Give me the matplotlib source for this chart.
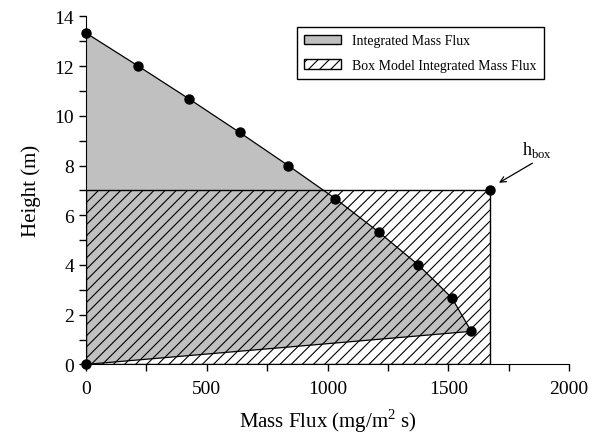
import matplotlib.pyplot as plt
import matplotlib.patches as mpatches
from matplotlib.ticker import MultipleLocator

plt.rcParams['font.family'] = ['Liberation Serif', 'DejaVu Serif']
plt.rcParams['mathtext.fontset'] = 'custom'
plt.rcParams['mathtext.rm'] = 'Liberation Serif'
plt.rcParams['hatch.linewidth'] = 0.8

# measured profile (mass flux vs height)
flux = [0, 216, 428, 636, 837, 1032, 1211, 1376, 1515, 1595]
height = [13.33, 12.0, 10.67, 9.33, 8.0, 6.67, 5.33, 4.0, 2.67, 1.33]

# box model
box_flux = 1674
box_height = 7.0

fig = plt.figure(figsize=(5.94, 4.35), dpi=100)
ax = fig.add_axes([0.145, 0.160, 0.813, 0.800])

# integrated mass flux area (closed back to origin)
poly_x = flux + [0, 0]
poly_y = height + [0, height[0]]
ax.fill(poly_x, poly_y, facecolor='#c0c0c0', edgecolor='none', zorder=1)
ax.plot(flux + [0], height + [0], color='black', lw=0.9, zorder=3)

# box model rectangle
ax.add_patch(mpatches.Rectangle((0, 0), box_flux, box_height, facecolor='none',
                                edgecolor='black', hatch='///', lw=1.0, zorder=2))

ax.plot(flux + [0], height + [0], 'o', color='black', ms=6.5, zorder=4, clip_on=False)
ax.plot([box_flux], [box_height], 'o', color='black', ms=6.5, zorder=4, clip_on=False)

ax.annotate('', xy=(1700, 7.25), xytext=(1858, 8.15),
            arrowprops=dict(arrowstyle='->', color='black', lw=0.9))
ax.text(1805, 8.45, r'h$_{\mathregular{box}}$', fontsize=13)

ax.set_xlim(0, 2000)
ax.set_ylim(0, 14)
ax.xaxis.set_major_locator(MultipleLocator(500))
ax.xaxis.set_minor_locator(MultipleLocator(250))
ax.yaxis.set_major_locator(MultipleLocator(2))
ax.yaxis.set_minor_locator(MultipleLocator(1))
ax.tick_params(which='both', direction='out', length=5, width=1, labelsize=14)
ax.tick_params(axis='x', pad=6)
for s in ['top', 'right']:
    ax.spines[s].set_visible(False)

ax.set_xlabel(r'Mass Flux (mg/m$^{\mathregular{2}}$ s)', fontsize=15, labelpad=7)
ax.set_ylabel('Height (m)', fontsize=15, labelpad=10)

h1 = mpatches.Patch(facecolor='#c0c0c0', edgecolor='black', label='Integrated Mass Flux')
h2 = mpatches.Patch(facecolor='white', edgecolor='black', hatch='///',
                    label='Box Model Integrated Mass Flux')
ax.legend(handles=[h1, h2], loc='upper right', bbox_to_anchor=(0.962, 0.99),
          fontsize=10, fancybox=False, edgecolor='black', framealpha=1,
          handlelength=2.6, borderpad=0.55, labelspacing=0.8)

fig.savefig('out.png', dpi=100)
